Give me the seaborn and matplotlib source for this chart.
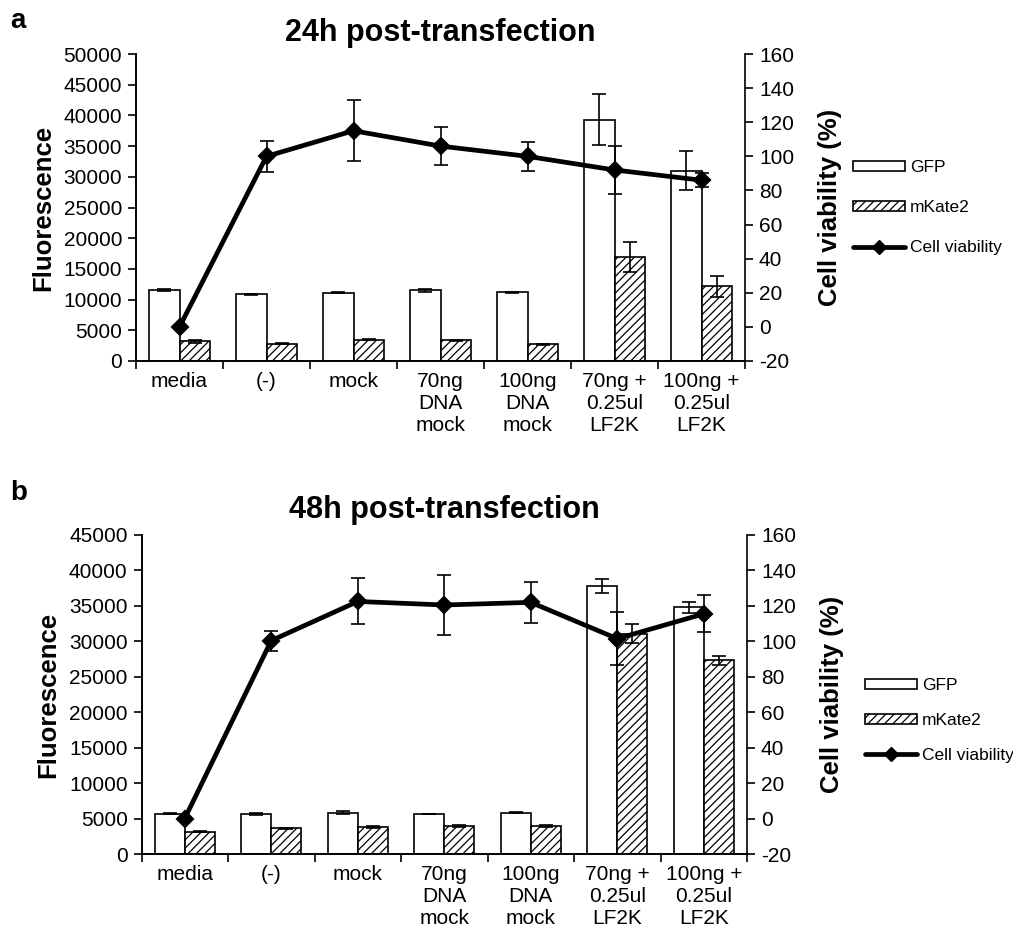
import numpy as np
import pandas as pd
import matplotlib
matplotlib.use("Agg")
import matplotlib.pyplot as plt
from matplotlib.patches import Patch
from matplotlib.lines import Line2D
import seaborn as sns

# ---- data -------------------------------------------------------------
categories = ["media", "(-)", "mock", "70ng\nDNA\nmock", "100ng\nDNA\nmock",
              "70ng +\n0.25ul\nLF2K", "100ng +\n0.25ul\nLF2K"]

gfp_24 = [11600, 10850, 11150, 11500, 11200, 39300, 31000]
gfp_24_err = [200, 100, 80, 250, 60, 4200, 3200]
mkate_24 = [3200, 2800, 3450, 3350, 2700, 16900, 12200]
mkate_24_err = [300, 100, 80, 80, 80, 2400, 1700]
viab_24 = [0, 100, 115, 106, 100, 92, 86]
viab_24_err = [0, 9, 18, 11, 8.5, 14, 4]

gfp_48 = [5700, 5650, 5850, 5650, 5850, 37800, 34800]
gfp_48_err = [50, 80, 150, 50, 100, 1000, 750]
mkate_48 = [3150, 3600, 3800, 3950, 3950, 31100, 27300]
mkate_48_err = [100, 80, 100, 200, 150, 1400, 700]
viab_48 = [0, 100.4, 122.5, 120.5, 122, 101.5, 115.5]
viab_48_err = [0, 5.7, 13, 17, 11.5, 15, 10.5]

series_names = ["GFP", "mKate2"]

# ---- style ------------------------------------------------------------
sns.set_style("white")
plt.rcParams["font.family"] = ["Liberation Sans", "DejaVu Sans"]
plt.rcParams["hatch.linewidth"] = 0.9
plt.rcParams["hatch.color"] = "black"
plt.rcParams["axes.unicode_minus"] = False
for key in ("text.color", "axes.labelcolor", "xtick.color", "ytick.color",
            "axes.edgecolor"):
    plt.rcParams[key] = "black"

TICK_FS = 15
LABEL_FS = 18.5
TITLE_FS = 22
LEGEND_FS = 12.5
HATCH = "////"
LINE_W = 3.4
MARKER_S = 7.5

fig = plt.figure(figsize=(10.13, 9.35), dpi=100)


def panel(rect, gfp, gfp_err, mkate, mkate_err, viab, viab_err,
          ymax, title, title_pad, legend_anchor, legend_spacing):
    ax = fig.add_axes(rect)
    df = pd.DataFrame({
        "condition": categories * 2,
        "series": [series_names[0]] * len(categories) + [series_names[1]] * len(categories),
        "value": list(gfp) + list(mkate),
    })
    sns.barplot(data=df, x="condition", y="value", hue="series",
                order=categories, hue_order=series_names,
                palette=["white", "white"], edgecolor="black", linewidth=1.2,
                width=0.69, gap=0, errorbar=None, legend=False, ax=ax)

    # hatch the mKate2 bars and add the error bars at each bar centre
    for cont, errs in zip(ax.containers, [gfp_err, mkate_err]):
        xs, ys = [], []
        for bar in cont:
            xs.append(bar.get_x() + bar.get_width() / 2)
            ys.append(bar.get_height())
        ax.errorbar(xs, ys, yerr=errs, fmt="none", ecolor="black",
                    elinewidth=1.2, capsize=5, capthick=1.2, zorder=3)
    for bar in ax.containers[1]:
        bar.set_hatch(HATCH)

    ax.set_ylim(0, ymax)
    ax.set_yticks(np.arange(0, ymax + 1, 5000))
    ax.set_ylabel("Fluorescence", fontsize=LABEL_FS, fontweight="bold", labelpad=6)
    ax.set_xlabel("")

    # cell viability on the secondary axis
    ax2 = ax.twinx()
    sns.pointplot(x=categories, y=viab, order=categories, color="black",
                  markers="D", linestyles="-", errorbar=None,
                  markersize=MARKER_S, linewidth=LINE_W, ax=ax2)
    ax2.errorbar(np.arange(len(categories)), viab, yerr=viab_err, fmt="none",
                 ecolor="black", elinewidth=1.2, capsize=5, capthick=1.2)
    ax2.set_ylim(-20, 160)
    ax2.set_yticks(np.arange(-20, 161, 20))
    ax2.set_ylabel("Cell viability (%)", fontsize=LABEL_FS, fontweight="bold",
                   labelpad=17)

    # category ticks sit between groups; labels centred under each group
    n = len(categories)
    ax.set_xlim(-0.5, n - 0.5)
    ax.set_xticks(np.arange(-0.5, n, 1.0))
    ax.set_xticklabels([])
    ax.set_xticks(np.arange(n), minor=True)
    ax.set_xticklabels(categories, minor=True, fontsize=TICK_FS, linespacing=1.2)
    ax.tick_params(axis="x", which="minor", length=0, pad=8)
    ax.tick_params(axis="x", which="major", direction="out", length=6, width=1.2,
                   bottom=True)
    ax.tick_params(axis="y", direction="out", length=6, width=1.2,
                   labelsize=TICK_FS, left=True, pad=4)
    ax2.tick_params(axis="y", direction="out", length=6, width=1.2,
                    labelsize=TICK_FS, right=True, pad=4)
    ax2.set_xlim(-0.5, n - 0.5)

    for a in (ax, ax2):
        a.spines["top"].set_visible(False)
        for s in ("left", "right", "bottom"):
            a.spines[s].set_linewidth(1.2)
            a.spines[s].set_color("black")
    ax.spines["right"].set_visible(False)

    ax.set_title(title, fontsize=TITLE_FS, fontweight="bold", pad=title_pad)

    handles = [
        Patch(facecolor="white", edgecolor="black", linewidth=1.2),
        Patch(facecolor="white", edgecolor="black", linewidth=1.2, hatch=HATCH),
        Line2D([0], [0], color="black", linewidth=LINE_W, marker="D",
               markersize=MARKER_S),
    ]
    fig.legend(handles, ["GFP", "mKate2", "Cell viability"],
               loc="upper left", bbox_to_anchor=legend_anchor, frameon=False,
               fontsize=LEGEND_FS, handlelength=3.0, handleheight=0.55,
               handletextpad=0.3, labelspacing=legend_spacing,
               borderpad=0, borderaxespad=0)
    return ax, ax2


panel([136 / 1013, 1 - 361 / 935, 609 / 1013, 307 / 935],
      gfp_24, gfp_24_err, mkate_24, mkate_24_err, viab_24, viab_24_err,
      50000, "24h post-transfection", 9,
      (853 / 1013, 1 - 160 / 935), 1.45)

panel([141.5 / 1013, 1 - 854 / 935, 605.5 / 1013, 319 / 935],
      gfp_48, gfp_48_err, mkate_48, mkate_48_err, viab_48, viab_48_err,
      45000, "48h post-transfection", 12,
      (865 / 1013, 1 - 678 / 935), 1.15)

fig.text(10 / 1013, 1 - 28 / 935, "a", fontsize=20, fontweight="bold")
fig.text(10 / 1013, 1 - 500 / 935, "b", fontsize=20, fontweight="bold")

fig.savefig("out.png", dpi=100)
